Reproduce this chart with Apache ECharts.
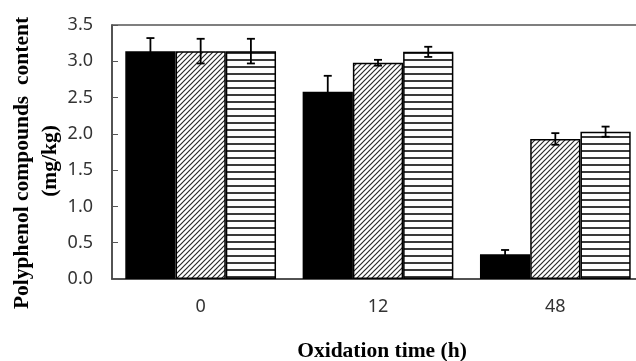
<!DOCTYPE html>
<html>
<head>
<meta charset="utf-8">
<script src="https://cdn.jsdelivr.net/npm/echarts@6/dist/echarts.min.js"></script>
<style>
html, body { margin: 0; padding: 0; background: #fff; }
#main { width: 636px; height: 361px; }
</style>
</head>
<body>
<div id="main"></div>
<script>
// oxidation time categories (h)
var times = ['0', '12', '48'];
// mean polyphenol content (mg/kg), three treatments
var meanBlack = [3.14, 2.58, 0.34];
var meanDiag = [3.14, 2.98, 1.93];
var meanHoriz = [3.14, 3.13, 2.03];
// error bar half-widths
var errBlack = [0.18, 0.22, 0.06];
var errDiag = [0.17, 0.04, 0.08];
var errHoriz = [0.17, 0.07, 0.07];
// y axis ticks
var yMin = 0, yMax = 3.5, yStep = 0.5;

var catGap = 0.15;

// fill patterns
function diagPattern() {
    var s = 5;
    var c = document.createElement('canvas');
    c.width = s; c.height = s;
    var ctx = c.getContext('2d');
    ctx.fillStyle = '#fff';
    ctx.fillRect(0, 0, s, s);
    ctx.strokeStyle = '#2a2a2a';
    ctx.lineWidth = 1.2;
    ctx.beginPath();
    ctx.moveTo(-1, s + 1); ctx.lineTo(s + 1, -1);
    ctx.moveTo(-1, 1); ctx.lineTo(1, -1);
    ctx.moveTo(s - 1, s + 1); ctx.lineTo(s + 1, s - 1);
    ctx.stroke();
    return c;
}
function horizPattern() {
    var c = document.createElement('canvas');
    c.width = 8; c.height = 7;
    var ctx = c.getContext('2d');
    ctx.fillStyle = '#fff';
    ctx.fillRect(0, 0, 8, 7);
    ctx.fillStyle = '#3a3a3a';
    ctx.fillRect(0, 3, 8, 2);
    return c;
}

function toPairs(means, errs) {
    return means.map(function (m, i) { return [i, m, errs[i]]; });
}

function errRender(si) {
    return function (params, api) {
        var cat = api.value(0), m = api.value(1), e = api.value(2);
        var catW = api.size([1, 0])[0];
        var barW = catW * (1 - catGap) / 3;
        var x = api.coord([cat, 0])[0] + (si - 1) * barW;
        var top = api.coord([cat, m + e])[1];
        var bot = api.coord([cat, m - e])[1];
        var cap = 4;
        var st = { stroke: '#000', lineWidth: 1.8 };
        return {
            type: 'group',
            children: [
                { type: 'line', shape: { x1: x, y1: top, x2: x, y2: bot }, style: st },
                { type: 'line', shape: { x1: x - cap, y1: top, x2: x + cap, y2: top }, style: st },
                { type: 'line', shape: { x1: x - cap, y1: bot, x2: x + cap, y2: bot }, style: st }
            ]
        };
    };
}

var myChart = echarts.init(document.getElementById('main'));
var barBorder = { borderColor: '#000', borderWidth: 1.5 };

option = {
    animation: false,
    grid: {
        left: 112,
        right: -8,
        top: 25,
        bottom: 82,
        outerBoundsMode: 'none',
        containLabel: false,
        show: true,
        borderColor: '#555',
        borderWidth: 1.5
    },
    xAxis: {
        type: 'category',
        data: times,
        axisLine: { lineStyle: { color: '#444', width: 1.5 } },
        axisTick: { inside: true, length: 6, lineStyle: { color: '#777' } },
        axisLabel: {
            margin: 19,
            fontSize: 18,
            color: '#333',
            fontFamily: 'Noto Sans'
        }
    },
    yAxis: {
        type: 'value',
        min: yMin,
        max: yMax,
        interval: yStep,
        splitLine: { show: false },
        axisLine: { show: true, lineStyle: { color: '#444', width: 1.5 } },
        axisTick: { show: true, inside: true, length: 6, lineStyle: { color: '#555' } },
        axisLabel: {
            margin: 19,
            fontSize: 18,
            color: '#333',
            fontFamily: 'Noto Sans',
            formatter: function (v) { return v.toFixed(1); }
        }
    },
    graphic: [
        {
            type: 'text',
            x: 22, y: 163,
            rotation: Math.PI / 2,
            style: {
                text: 'Polyphenol compounds  content',
                font: 'bold 21.5px "Liberation Serif"',
                fill: '#000',
                align: 'center',
                verticalAlign: 'middle'
            }
        },
        {
            type: 'text',
            x: 50, y: 161,
            rotation: Math.PI / 2,
            style: {
                text: '(mg/kg)',
                font: 'bold 21.5px "Liberation Serif"',
                fill: '#000',
                align: 'center',
                verticalAlign: 'middle'
            }
        },
        {
            type: 'text',
            x: 382, y: 351,
            style: {
                text: 'Oxidation time (h)',
                font: 'bold 21.5px "Liberation Serif"',
                fill: '#000',
                align: 'center',
                verticalAlign: 'middle'
            }
        }
    ],
    series: [
        {
            type: 'bar',
            data: meanBlack,
            barGap: '0%',
            barCategoryGap: (catGap * 100) + '%',
            itemStyle: Object.assign({ color: '#000' }, barBorder)
        },
        {
            type: 'bar',
            data: meanDiag,
            itemStyle: Object.assign({ color: { image: diagPattern(), repeat: 'repeat' } }, barBorder)
        },
        {
            type: 'bar',
            data: meanHoriz,
            itemStyle: Object.assign({ color: { image: horizPattern(), repeat: 'repeat' } }, barBorder)
        },
        { type: 'custom', renderItem: errRender(0), data: toPairs(meanBlack, errBlack), encode: { x: 0, y: 1 }, z: 10 },
        { type: 'custom', renderItem: errRender(1), data: toPairs(meanDiag, errDiag), encode: { x: 0, y: 1 }, z: 10 },
        { type: 'custom', renderItem: errRender(2), data: toPairs(meanHoriz, errHoriz), encode: { x: 0, y: 1 }, z: 10 }
    ]
};
myChart.setOption(option);
</script>
</body>
</html>
